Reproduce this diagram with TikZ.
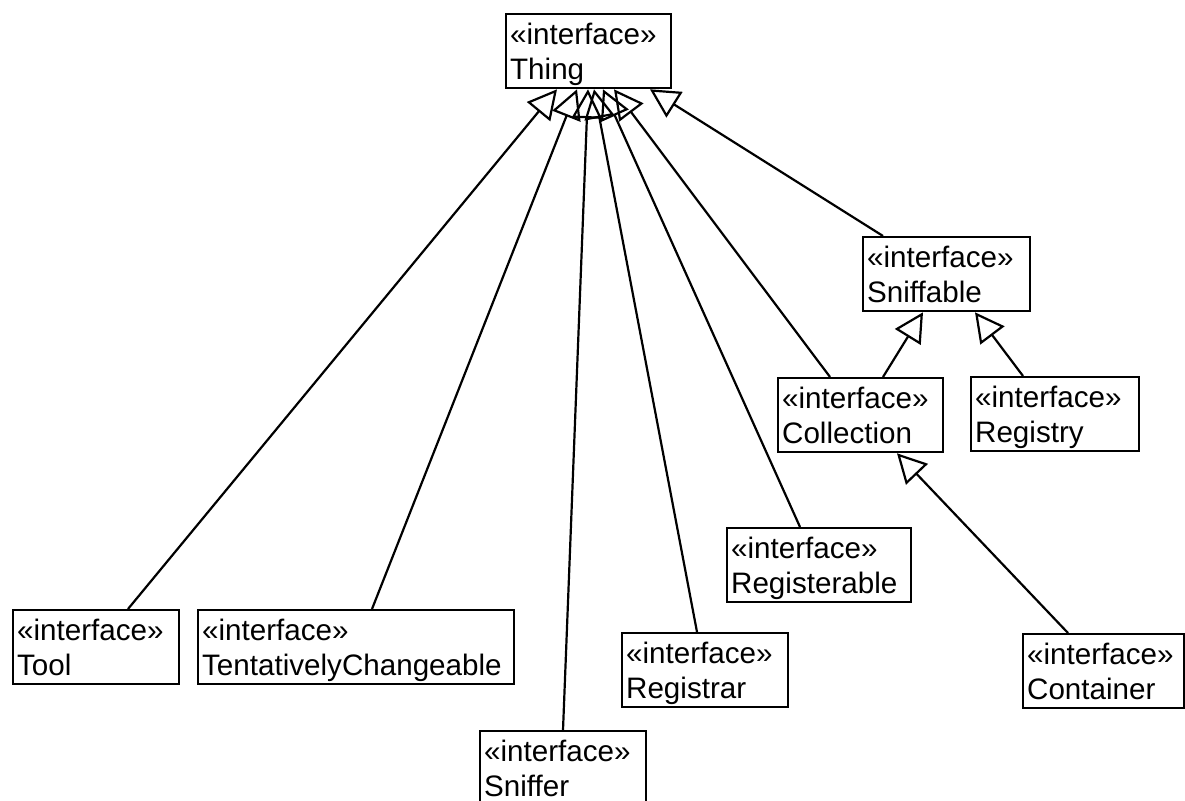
\documentclass[tikz,border=0pt]{standalone}
\usepackage{fontspec}
\setmainfont{Liberation Sans}
\usetikzlibrary{arrows.meta,calc}
% struts that fix the two text lines inside every interface box
\newcommand\hiStrut{\rule{0pt}{28pt}}
\newcommand\loStrut{\rule[-7pt]{0pt}{7pt}}
\newcommand\stereo[1]{\hiStrut«interface»\\\loStrut #1}
\tikzset{
  iface/.style={draw, line width=2.3pt, rectangle, anchor=north west,
    inner xsep=4pt, inner ysep=2pt, minimum height=74pt, align=left,
    font=\fontsize{29.6}{35}\selectfont},
  realize/.style={line width=2.2pt, -{Triangle[open, length=29pt, width=30pt]}},
}
\begin{document}
\begin{tikzpicture}[x=1pt, y=-1pt]
\useasboundingbox[fill=white] (0,0) rectangle (1185,800);
\clip (0,0) rectangle (1185,800);

% interfaces
\node[iface, text width=157pt] (thing)        at (505,13)  {\stereo{Thing}};
\node[iface, text width=159pt] (sniffable)    at (862,236) {\stereo{Sniffable}};
\node[iface, text width=157pt] (collection)   at (777,377) {\stereo{Collection}};
\node[iface, text width=160pt] (registry)     at (970,376) {\stereo{Registry}};
\node[iface, text width=176pt] (registerable) at (726,527) {\stereo{Registerable}};
\node[iface, text width=158pt] (tool)         at (12,609)  {\stereo{Tool}};
\node[iface, text width=308pt] (tentative)    at (197,609) {\stereo{TentativelyChangeable}};
\node[iface, text width=158pt] (registrar)    at (621,632) {\stereo{Registrar}};
\node[iface, text width=153pt] (container)    at (1022,633) {\stereo{Container}};
\node[iface, text width=158pt] (sniffer)      at (479,730) {\stereo{Sniffer}};

% generalizations towards Thing
\draw[realize] ($(tool.north west)+(116,0)$)        -- ($(thing.south west)+(52,0)$);
\draw[realize] ($(tentative.north west)+(175,0)$)   -- ($(thing.south west)+(72,0)$);
\draw[realize] ($(sniffer.north west)+(84,0)$)      -- ($(thing.south west)+(83,0)$);
\draw[realize] ($(registrar.north west)+(76,0)$)    -- ($(thing.south west)+(89,0)$);
\draw[realize] ($(registerable.north west)+(74,0)$) -- ($(thing.south west)+(98,0)$);
\draw[realize] ($(collection.north west)+(53,0)$)   -- ($(thing.south west)+(109,0)$);
\draw[realize] ($(sniffable.north west)+(21,0)$)    -- ($(thing.south west)+(145,0)$);

% generalizations towards Sniffable and Collection
\draw[realize] ($(collection.north west)+(106,0)$)  -- ($(sniffable.south west)+(61,0)$);
\draw[realize] ($(registry.north west)+(53,0)$)     -- ($(sniffable.south west)+(113,0)$);
\draw[realize] ($(container.north west)+(46,0)$)    -- ($(collection.south west)+(120,0)$);
\end{tikzpicture}
\end{document}
